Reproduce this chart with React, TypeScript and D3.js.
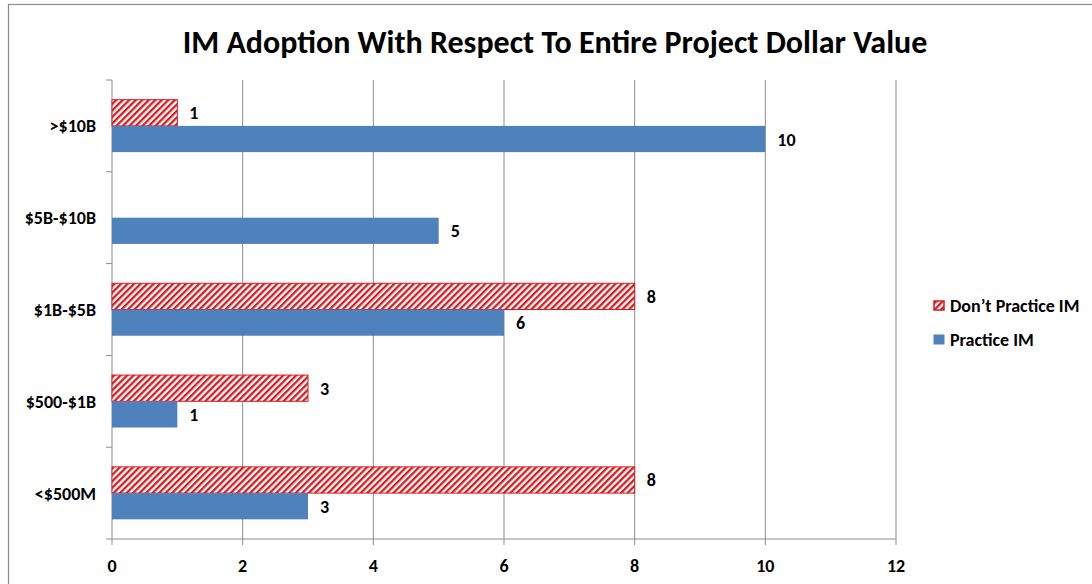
import React from "react";
import * as d3 from "d3";

const categories = [">$10B", "$5B-$10B", "$1B-$5B", "$500-$1B", "<$500M"];
const dontPractice = [1, null, 8, 3, 8];
const practice = [10, 5, 6, 1, 3];
const xTicks = [0, 2, 4, 6, 8, 10, 12];
const seriesNames = ["Don\u2019t Practice IM", "Practice IM"];

const W = 1092;
const H = 584;
const FONT = "Calibri, Carlito, 'Open Sans', sans-serif";

export default function App() {
  const left = 112, right = 896, top = 80, bottom = 539;
  const x = d3.scaleLinear().domain([0, 12]).range([left, right]);
  const y = d3.scaleBand().domain(categories).range([top, bottom]).paddingInner(0).paddingOuter(0);
  const band = y.bandwidth();
  const barH = band / 3.5;
  const red = "#DA1A1E";
  const blue = "#4F81BD";
  const fs = 18;

  return (
    <svg width={W} height={H} style={{ position: "absolute", left: 0, top: 0, background: "#fff" }} fontFamily={FONT}>
      <defs>
        <pattern id="hatch" patternUnits="userSpaceOnUse" width={4.6} height={4.6} patternTransform="rotate(45)">
          <rect width={4.6} height={4.6} fill="#fff" />
          <rect width={2.3} height={4.6} fill={red} />
        </pattern>
      </defs>
      <rect x={8.5} y={4.5} width={1200} height={700} fill="#fff" stroke="#8c8c8c" strokeWidth={1.2} />
      <text x={555} y={53} textAnchor="middle" fontSize={32} fontWeight="bold" fill="#000">
        IM Adoption With Respect To Entire Project Dollar Value
      </text>
      {xTicks.map((t) => (
        <g key={t}>
          {t > 0 && <line x1={x(t)} x2={x(t)} y1={top} y2={bottom} stroke="#8c8c8c" strokeWidth={1} />}
          <line x1={x(t)} x2={x(t)} y1={bottom} y2={bottom + 6} stroke="#8c8c8c" />
          <text x={x(t)} y={bottom + 33} textAnchor="middle" fontSize={fs} fontWeight="bold">{t}</text>
        </g>
      ))}
      <line x1={left} x2={right} y1={bottom} y2={bottom} stroke="#8c8c8c" />
      <line x1={left} x2={left} y1={top} y2={bottom} stroke="#8c8c8c" />
      {d3.range(categories.length + 1).map((i) => (
        <line key={i} x1={left - 6} x2={left} y1={top + i * band} y2={top + i * band} stroke="#8c8c8c" />
      ))}
      {categories.map((c, i) => {
        const yc = (y(c) as number) + band / 2;
        const d = dontPractice[i];
        const p = practice[i];
        return (
          <g key={c}>
            <text x={96} y={yc + 6.5} textAnchor="end" fontSize={fs} fontWeight="bold">{c}</text>
            {d !== null && (
              <g>
                <rect x={x(0)} y={yc - barH} width={x(d) - x(0)} height={barH} fill="url(#hatch)" stroke={red} strokeWidth={1} />
                <text x={x(d) + 12} y={yc - barH / 2 + 6.5} fontSize={fs} fontWeight="bold">{d}</text>
              </g>
            )}
            <rect x={x(0)} y={yc} width={x(p) - x(0)} height={barH} fill={blue} />
            <text x={x(p) + 12} y={yc + barH / 2 + 6.5} fontSize={fs} fontWeight="bold">{p}</text>
          </g>
        );
      })}
      <rect x={934} y={301} width={10} height={9} fill="url(#hatch)" stroke={red} strokeWidth={1.5} />
      <text x={950} y={311.5} fontSize={fs} fontWeight="bold">{seriesNames[0]}</text>
      <rect x={933.5} y={334.5} width={11} height={10} fill={blue} />
      <text x={950} y={345.5} fontSize={fs} fontWeight="bold">{seriesNames[1]}</text>
    </svg>
  );
}
